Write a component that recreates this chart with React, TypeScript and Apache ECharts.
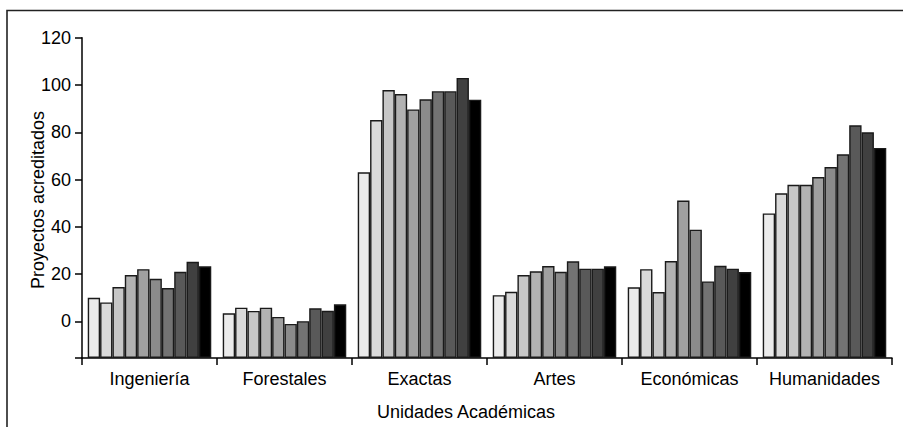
import React, { useEffect, useRef } from "react";
import * as echarts from "echarts";

const categories = ["Ingeniería", "Forestales", "Exactas", "Artes", "Económicas", "Humanidades"];
const seriesNames = ["S1", "S2", "S3", "S4", "S5", "S6", "S7", "S8", "S9", "S10"];
const colors = ["#ebebeb", "#dadada", "#c7c7c7", "#b2b2b2", "#a0a0a0", "#8b8b8b", "#737373", "#595959", "#404040", "#000000"];

// values per series (one per category)
const s1 = [10.0, 3.4, 63.1, 11.1, 14.4, 45.7];
const s2 = [8.0, 5.8, 85.2, 12.5, 22.1, 54.2];
const s3 = [14.5, 4.4, 97.9, 19.6, 12.4, 57.8];
const s4 = [19.6, 5.8, 96.2, 21.2, 25.5, 57.8];
const s5 = [22.1, 1.9, 89.7, 23.4, 51.1, 61.1];
const s6 = [18.0, -1.1, 94.0, 21.0, 38.8, 65.3];
const s7 = [14.1, 0.1, 97.4, 25.4, 16.9, 70.7];
const s8 = [21.0, 5.5, 97.4, 22.3, 23.5, 83.0];
const s9 = [25.2, 4.5, 103.0, 22.3, 22.3, 80.0];
const s10 = [23.3, 7.2, 93.8, 23.3, 20.9, 73.4];
const seriesValues = [s1, s2, s3, s4, s5, s6, s7, s8, s9, s10];

const yTicks = [0, 20, 40, 60, 80, 100, 120];
const yMin = -15.5;
const yMax = 120;

export default function App() {
  const ref = useRef<HTMLDivElement>(null);
  useEffect(() => {
    if (!ref.current) return;
    const chart = echarts.init(ref.current, null, { renderer: "svg" });
    const font = "'Liberation Sans', Arial, sans-serif";
    const shift = (v: number) => v - yMin;
    chart.setOption({
      animation: false,
      backgroundColor: "#ffffff",
      grid: { left: 82, right: 11, top: 37.8, bottom: 69, containLabel: false },
      xAxis: {
        type: "category",
        data: categories,
        axisLine: { show: true, lineStyle: { color: "#000", width: 1.5 } },
        axisTick: { show: true, length: 7, lineStyle: { color: "#000", width: 1.5 } },
        axisLabel: { color: "#000", fontSize: 18, fontFamily: font, margin: 12, interval: 0 },
        splitLine: { show: false },
      },
      yAxis: {
        type: "value",
        min: 0,
        max: shift(yMax),
        axisLine: { show: true, lineStyle: { color: "#000", width: 1.5 } },
        axisTick: {
          show: true,
          length: 7,
          customValues: [0, ...yTicks.map(shift)],
          lineStyle: { color: "#000", width: 1.5 },
        },
        axisLabel: {
          color: "#000",
          fontSize: 18,
          fontFamily: font,
          margin: 11,
          padding: [4, 0, 0, 0],
          customValues: yTicks.map(shift),
          formatter: (v: number) => String(Math.round(v + yMin)),
        },
        splitLine: { show: false },
      },
      series: seriesValues.map((vals, i) => ({
        name: seriesNames[i],
        type: "bar",
        data: vals.map(shift),
        barGap: "0%",
        barCategoryGap: "8.5%",
        itemStyle: { color: colors[i], borderColor: "#1a1a1a", borderWidth: 1.4 },
      })),
      graphic: [
        {
          type: "rect",
          shape: { x: 7, y: 10.5, width: 1000, height: 600 },
          style: { fill: "none", stroke: "#222", lineWidth: 1.6 },
          silent: true,
        },
        {
          type: "text",
          x: 38,
          y: 200,
          rotation: Math.PI / 2,
          style: {
            text: "Proyectos acreditados",
            fontSize: 18,
            fontFamily: font,
            fill: "#000",
            align: "center",
            verticalAlign: "middle",
          },
        },
        {
          type: "text",
          x: 466,
          y: 412,
          style: {
            text: "Unidades Académicas",
            fontSize: 18,
            fontFamily: font,
            fill: "#000",
            align: "center",
            verticalAlign: "middle",
          },
        },
      ],
    });
    return () => chart.dispose();
  }, []);
  return (
    <div
      ref={ref}
      style={{ position: "absolute", left: 0, top: 0, width: 903, height: 427 }}
    />
  );
}
